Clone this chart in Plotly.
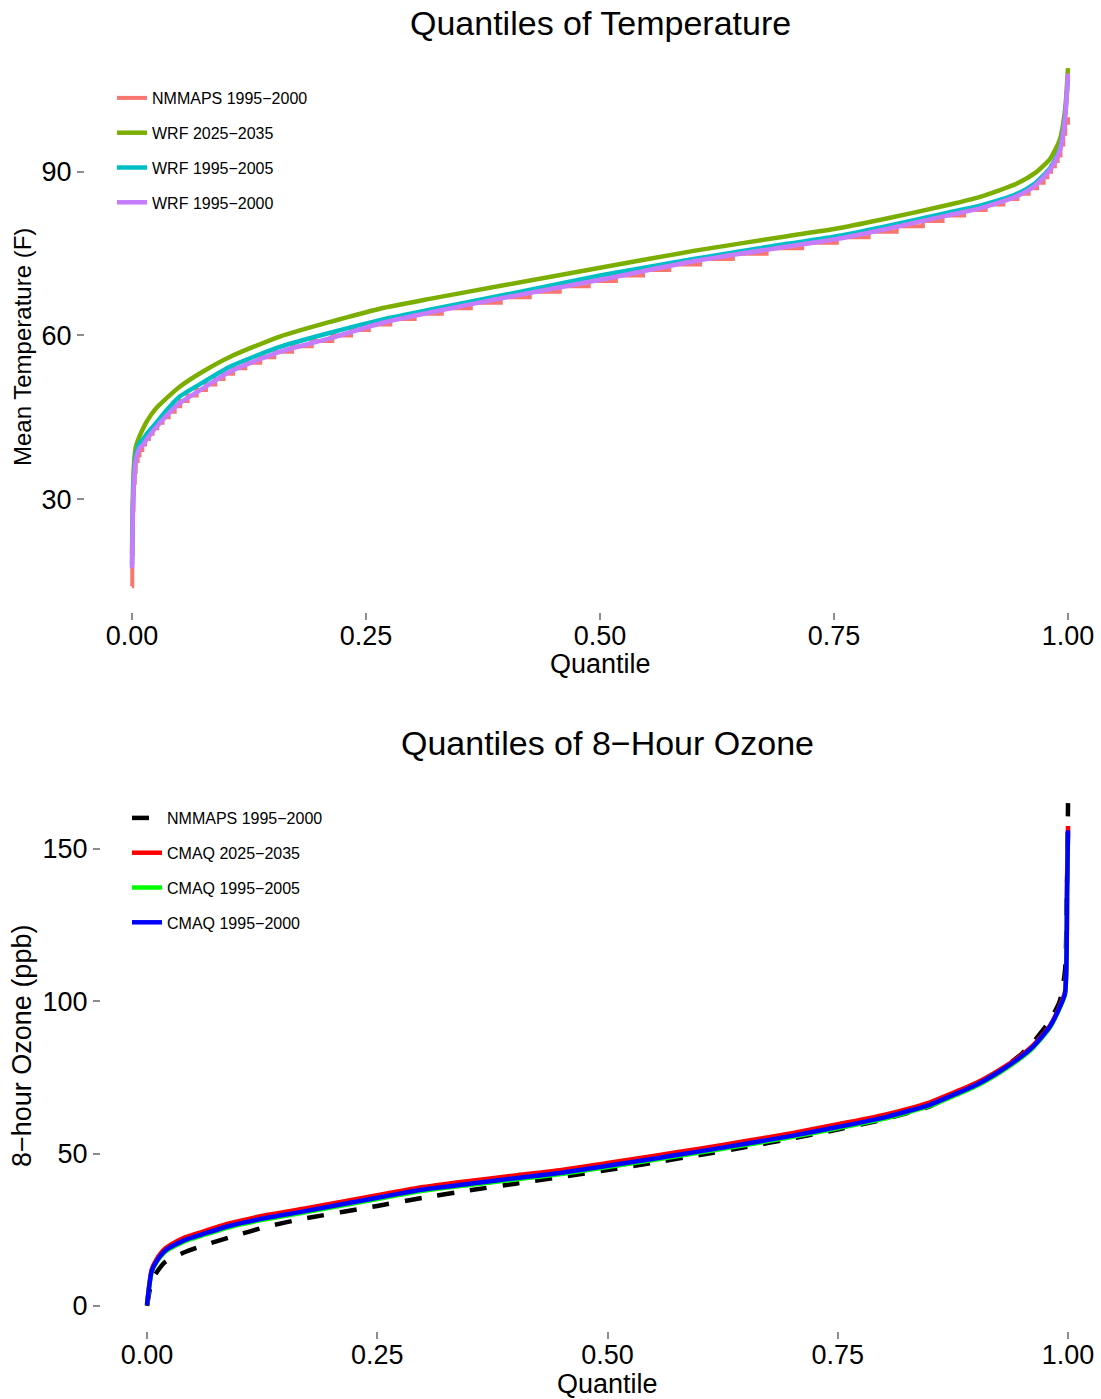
import plotly.graph_objects as go

# ---------------- Top panel: temperature quantiles ----------------
q_temp = [0, 0.001, 0.002, 0.004, 0.008, 0.012, 0.016, 0.025, 0.037, 0.051,
          0.075, 0.105, 0.158, 0.212, 0.265, 0.318, 0.4, 0.5, 0.6, 0.7,
          0.75, 0.8, 0.874, 0.906, 0.945, 0.965, 0.981, 0.9915, 0.997, 1.0]
wrf_2025_2035 = [20, 31, 36, 39.5, 41.5, 43.0, 44.3, 46.5, 48.5, 50.6,
                 53.3, 56.1, 59.8, 62.5, 64.9, 66.7, 69.3, 72.4, 75.5, 78.2,
                 79.5, 81.2, 84.0, 85.4, 87.8, 89.8, 92.4, 96.0, 101.5, 109.0]
wrf_1995_2005 = [18, 29, 34, 38, 40.3, 41.0, 42.0, 43.8, 46.3, 48.8,
                 51.3, 54.3, 57.9, 60.5, 62.8, 64.7, 67.5, 71.0, 74.0, 76.8,
                 78.1, 79.8, 82.6, 83.8, 85.9, 87.9, 90.7, 94.3, 100.5, 107.0]
wrf_1995_2000 = [17.3, 28, 33, 37, 39.3, 40.0, 41.0, 43.0, 45.3, 47.6,
                 50.2, 53.4, 57.0, 59.5, 62.2, 64.2, 67.0, 70.2, 73.6, 76.3,
                 77.6, 79.3, 82.1, 83.3, 85.5, 87.5, 90.4, 94.0, 100.0, 108.0]
# NMMAPS observed temperatures are whole degrees -> staircase
nmmaps_temp_q = [0, 0.0003, 0.0006, 0.001, 0.0015, 0.002, 0.003, 0.004, 0.006, 0.008,
                 0.011, 0.014, 0.018, 0.022, 0.027, 0.0326, 0.0392, 0.0456, 0.0516, 0.0594,
                 0.069, 0.079, 0.089, 0.0978, 0.108, 0.121, 0.137, 0.152, 0.171, 0.192,
                 0.214, 0.234, 0.253, 0.276, 0.302, 0.331, 0.362, 0.394, 0.425, 0.457,
                 0.488, 0.517, 0.546, 0.574, 0.607, 0.642, 0.678, 0.716, 0.753, 0.787,
                 0.817, 0.845, 0.866, 0.889, 0.912, 0.931, 0.946, 0.958, 0.967, 0.974,
                 0.978, 0.982, 0.986, 0.989, 0.992, 0.995, 0.997, 1.0]
nmmaps_temp = [14, 20, 25, 28, 31, 33, 35, 37, 38, 39,
               40, 41, 42, 43, 44, 45, 46, 47, 48, 49,
               50, 51, 52, 53, 54, 55, 56, 57, 58, 59,
               60, 61, 62, 63, 64, 65, 66, 67, 68, 69,
               70, 71, 72, 73, 74, 75, 76, 77, 78, 79,
               80, 81, 82, 83, 84, 85, 86, 87, 88, 89,
               90, 91, 92, 93, 95, 97, 99, 100]

# ---------------- Bottom panel: 8-hour ozone quantiles ----------------
q_ozone = [0, 0.005, 0.01, 0.02, 0.04, 0.06, 0.09, 0.13, 0.17, 0.25,
           0.3, 0.35, 0.4, 0.45, 0.5, 0.55, 0.6, 0.65, 0.7, 0.75,
           0.8, 0.85, 0.872, 0.9, 0.926, 0.95, 0.962, 0.98, 0.991, 0.9967,
           0.999, 1.0]
nmmaps_ozone = [0, 8.0, 10.8, 14.5, 17.5, 19.7, 22.5, 26.0, 28.6, 32.8,
                35.5, 37.9, 40.1, 42.3, 44.6, 47.0, 49.5, 52.1, 54.9, 57.9,
                61.2, 65.5, 68.8, 72.5, 77.3, 82.8, 86.5, 93.5, 100.0, 110.0,
                140.0, 165.0]
cmaq_2025_2035 = [0.3, 11.8, 15.1, 18.9, 22.3, 24.3, 27.1, 29.8, 31.9, 36.3,
                  39.0, 41.0, 42.8, 44.6, 46.9, 49.2, 51.6, 54.1, 56.7, 59.6,
                  62.7, 66.8, 69.5, 73.1, 77.5, 82.4, 85.5, 91.8, 98.4, 103.0,
                  139.0, 157.5]
cmaq_1995_2005 = [0.3, 11.0, 14.1, 17.8, 21.1, 23.1, 25.9, 28.5, 30.6, 35.1,
                  37.8, 39.7, 41.5, 43.3, 45.6, 47.9, 50.3, 52.8, 55.4, 58.3,
                  61.4, 65.6, 68.4, 72.1, 76.6, 81.6, 84.7, 91.2, 97.8, 102.3,
                  137.0, 155.0]
cmaq_1995_2000 = [0.3, 11.3, 14.5, 18.2, 21.5, 23.5, 26.3, 28.9, 31.0, 35.5,
                  38.2, 40.1, 41.9, 43.7, 46.0, 48.3, 50.7, 53.2, 55.8, 58.7,
                  61.8, 66.0, 68.8, 72.5, 77.0, 82.0, 85.1, 91.5, 98.0, 102.5,
                  138.0, 156.0]

W, H = 1101, 1399
FONT = "Liberation Sans, Arial, Helvetica, sans-serif"

fig = go.Figure()

top_series = [
    ("NMMAPS 1995\u22122000", nmmaps_temp_q, nmmaps_temp, "#F8766D", "hv", 4),
    ("WRF 2025\u22122035", q_temp, wrf_2025_2035, "#7CAE00", "spline", 4.5),
    ("WRF 1995\u22122005", q_temp, wrf_1995_2005, "#00BFC4", "spline", 4.5),
    ("WRF 1995\u22122000", q_temp, wrf_1995_2000, "#C77CFF", "spline", 4.5),
]
for i, (name, xs, ys, col, shape, wd) in enumerate(top_series):
    line = dict(color=col, width=wd, shape=shape)
    if shape == "spline":
        line["smoothing"] = 0.6
    fig.add_trace(go.Scatter(
        x=xs, y=ys, name=name, mode="lines", line=line,
        xaxis="x", yaxis="y", legend="legend", legendgroup="t%d" % i,
    ))

bottom_series = [
    ("NMMAPS 1995\u22122000", nmmaps_ozone, "#000000", "17px,16px"),
    ("CMAQ 2025\u22122035", cmaq_2025_2035, "#FF0000", "solid"),
    ("CMAQ 1995\u22122005", cmaq_1995_2005, "#00FF00", "solid"),
    ("CMAQ 1995\u22122000", cmaq_1995_2000, "#0000FF", "solid"),
]
for i, (name, ys, col, dash) in enumerate(bottom_series):
    fig.add_trace(go.Scatter(
        x=q_ozone, y=ys, name=name, mode="lines",
        line=dict(color=col, width=4.5, dash=dash, shape="spline", smoothing=0.6),
        xaxis="x2", yaxis="y2", legend="legend2", legendgroup="b%d" % i,
    ))

def px_y(p):
    return 1 - p / H

def px_x(p):
    return p / W

tickfont = dict(family=FONT, size=27, color="#000000")
axis_common = dict(showgrid=False, zeroline=False, showline=False,
                   ticks="outside", ticklen=7, tickwidth=1.5, tickcolor="#8C8C8C",
                   tickfont=tickfont)
qticks = [0, 0.25, 0.5, 0.75, 1.0]
qlabels = ["0.00", "0.25", "0.50", "0.75", "1.00"]

def label(text, x, y, size, angle=0):
    return dict(text=text, x=px_x(x), y=px_y(y), textangle=angle,
                xref="paper", yref="paper", xanchor="center", yanchor="middle",
                showarrow=False, font=dict(family=FONT, size=size, color="#000000"))

fig.update_layout(
    width=W, height=H, autosize=False,
    margin=dict(l=0, r=0, t=0, b=0),
    paper_bgcolor="white", plot_bgcolor="white",
    font=dict(family=FONT, color="#000000"),
    xaxis=dict(domain=[px_x(85), 1.0], range=[-0.0502, 1.0353],
               tickvals=qticks, ticktext=qlabels, ticklabelstandoff=-7,
               anchor="y", **axis_common),
    yaxis=dict(domain=[px_y(612), px_y(48)], range=[9.3, 112.7],
               tickvals=[30, 60, 90], ticklabelstandoff=0,
               anchor="x", **axis_common),
    xaxis2=dict(domain=[px_x(101), 1.0], range=[-0.04995, 1.0358],
                tickvals=qticks, ticktext=qlabels, ticklabelstandoff=-7,
                anchor="y2", **axis_common),
    yaxis2=dict(domain=[px_y(1331), px_y(778)], range=[-8.25, 173.25],
                tickvals=[0, 50, 100, 150], ticklabelstandoff=0,
                anchor="x2", **axis_common),
    legend=dict(x=px_x(112), y=px_y(81), xanchor="left", yanchor="top",
                bgcolor="rgba(0,0,0,0)", font=dict(family=FONT, size=16, color="#000000"),
                tracegroupgap=11, traceorder="grouped"),
    legend2=dict(x=px_x(127), y=px_y(801), xanchor="left", yanchor="top",
                 bgcolor="rgba(0,0,0,0)", font=dict(family=FONT, size=16, color="#000000"),
                 tracegroupgap=11, traceorder="grouped"),
    annotations=[
        label("Quantiles of Temperature", 600, 23, 34),
        label("Quantiles of 8\u2212Hour Ozone", 607, 743, 34),
        label("Mean Temperature (F)", 22, 347, 24, -90),
        label("8\u2212hour Ozone (ppb)", 22, 1046, 27, -90),
        label("Quantile", 600, 664, 27),
        label("Quantile", 607, 1384, 27),
    ],
)

fig.write_html("out.html")
